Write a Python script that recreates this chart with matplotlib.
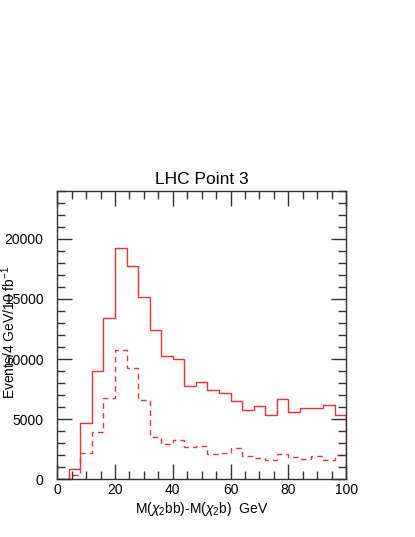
import matplotlib
matplotlib.use("Agg")
import matplotlib.pyplot as plt
from matplotlib.ticker import MultipleLocator
import numpy as np

plt.rcParams['font.family'] = ['Liberation Sans', 'DejaVu Sans']
plt.rcParams['mathtext.fontset'] = 'custom'
plt.rcParams['mathtext.rm'] = 'Liberation Sans'
plt.rcParams['mathtext.it'] = 'Liberation Sans:italic'

bin_edges = list(range(0, 101, 4))
solid_counts = [0, 830, 4720, 8970, 13440, 19250, 17720, 15190, 12420, 10280,
                10000, 7750, 8080, 7420, 7140, 6530, 5750, 6080, 5330, 6670,
                5560, 5890, 5890, 6140, 5330]
dashed_counts = [0, 400, 2220, 3920, 6750, 10720, 9280, 6560, 3530, 2940,
                 3280, 2720, 2810, 2110, 2190, 2580, 1940, 1780, 1580, 2080,
                 1830, 1670, 1920, 1580, 2000]

fig = plt.figure(figsize=(4.15, 5.37), dpi=100)
ax = fig.add_axes([0.138, 0.1074, 0.696, 0.5375])

red = '#ff2a2a'
ax.stairs(solid_counts, bin_edges, baseline=0, color=red, lw=1.0)
ax.stairs(dashed_counts, bin_edges, baseline=None, color=red, lw=1.0,
          linestyle=(0, (4, 3)))

ax.set_xlim(0, 100)
ax.set_ylim(0, 24000)
ax.xaxis.set_major_locator(MultipleLocator(20))
ax.xaxis.set_minor_locator(MultipleLocator(5))
ax.yaxis.set_major_locator(MultipleLocator(5000))
ax.yaxis.set_minor_locator(MultipleLocator(1000))
ax.tick_params(which='both', direction='in', top=True, right=True,
               color='#333333', labelsize=10)
ax.tick_params(which='major', length=11, width=1)
ax.tick_params(which='minor', length=6, width=1)
ax.tick_params(axis='y', pad=10)
ax.tick_params(axis='x', pad=3)
for s in ax.spines.values():
    s.set_color('#333333')
    s.set_linewidth(1)

ax.set_title('LHC Point 3', fontsize=12.5, pad=5)
ax.set_xlabel(r'M($\chi_2$bb)-M($\chi_2$b)  GeV', fontsize=10, labelpad=2)
fig.text(0.02, 0.38, r'Events/4 GeV/10 fb$^{-1}$', rotation=90,
         fontsize=10, ha='center', va='center')

fig.savefig('out.png', dpi=100)
